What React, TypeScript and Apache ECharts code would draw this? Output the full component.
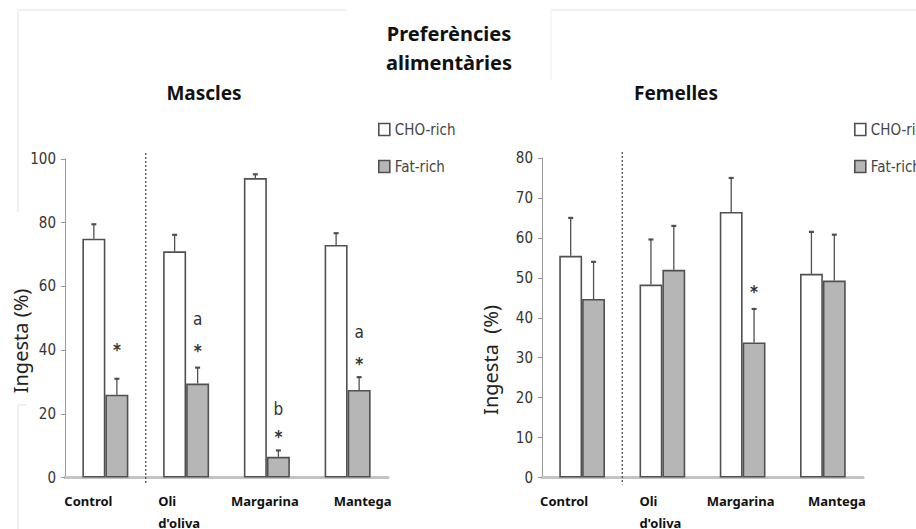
import React, { useEffect, useRef } from 'react';
import * as echarts from 'echarts';

// ---------- data ----------
const categories = ['Control', "Oli d'oliva", 'Margarina', 'Mantega'];
const seriesNames = ['CHO-rich', 'Fat-rich'];

const maleCho = [75, 71, 94, 73];
const maleChoErr = [4.5, 5.2, 1.2, 3.7];
const maleFat = [26, 29.5, 6.5, 27.5];
const maleFatErr = [5, 5, 2, 4];

const femaleCho = [55.5, 48.3, 66.5, 51];
const femaleChoErr = [9.5, 11.3, 8.5, 10.5];
const femaleFat = [44.7, 52, 33.8, 49.3];
const femaleFatErr = [9.3, 11, 8.4, 11.5];

// [category index, y value, text]
const maleMarks: [number, number, string][] = [
  [0, 40, '*'],
  [1, 49.7, 'a'],
  [1, 39.7, '*'],
  [2, 21.5, 'b'],
  [2, 12.7, '*'],
  [3, 45.8, 'a'],
  [3, 35.5, '*'],
];
const femaleMarks: [number, number, string][] = [[2, 46.5, '*']];

const maleAxis = { min: 0, max: 100, interval: 20 };
const femaleAxis = { min: 0, max: 80, interval: 10 };

const titleLines = ['Preferències', 'alimentàries'];
const panelTitles = ['Mascles', 'Femelles'];
const yNames = ['Ingesta (%)', 'Ingesta  (%)'];

// ---------- styles ----------
const NARROW = '"Liberation Sans Narrow", "Arial Narrow", "DejaVu Sans Condensed", sans-serif';
const SANS = '"Noto Sans", sans-serif';
const BAR_FRAC = 0.285;
const EDGE = '#505050';
const FAT = '#b6b6b6';

const leftShifts = [-17, -7, -2, 15];
const rightShifts = [-18, -2, -2, 14];

function xLabel(shifts: number[]) {
  const rich: any = {};
  shifts.forEach((s, i) => {
    const base = {
      fontFamily: SANS,
      fontWeight: 'bold',
      fontSize: 13,
      color: '#111',
      lineHeight: 22,
    };
    rich['s' + i] = { ...base, padding: s < 0 ? [0, -2 * s, 0, 0] : [0, 0, 0, 2 * s] };
    rich['s' + i + 'a'] = { ...base, align: 'left' };
  });
  return {
    margin: 12,
    interval: 0,
    formatter: (v: string, i: number) => {
      if (v.indexOf(' ') > 0 && v.startsWith('Oli')) {
        const [a, b] = v.split(' ');
        return `{s${i}a|${a}}\n{s${i}|${b}}`;
      }
      return `{s${i}|${v}}`;
    },
    rich,
  };
}

function errRender(params: any, api: any) {
  const cat = api.value(0);
  const v = api.value(1);
  const e = api.value(2);
  const side = api.value(3);
  const band = api.size([1, 0])[0];
  const base = api.coord([cat, v]);
  const top = api.coord([cat, v + e]);
  const x = base[0] + (side * band * BAR_FRAC) / 2;
  return {
    type: 'group',
    children: [
      { type: 'line', shape: { x1: x, y1: base[1], x2: x, y2: top[1] }, style: { stroke: EDGE, lineWidth: 1.3 } },
      { type: 'line', shape: { x1: x - 2.5, y1: top[1], x2: x + 2.5, y2: top[1] }, style: { stroke: EDGE, lineWidth: 2.2 } },
    ],
  };
}

function marksRender(marks: [number, number, string][]) {
  return (params: any, api: any) => {
    const m = marks[params.dataIndex];
    const band = api.size([1, 0])[0];
    const p = api.coord([m[0], m[1]]);
    const star = m[2] === '*';
    return {
      type: 'text',
      x: p[0] + (band * BAR_FRAC) / 2,
      y: p[1],
      style: {
        text: m[2],
        fill: '#333',
        font: star ? `bold 17px ${NARROW}` : `17px ${NARROW}`,
        align: 'center',
        verticalAlign: 'middle',
      },
    };
  };
}

function sepRender(params: any, api: any) {
  const band = api.size([1, 0])[0];
  const x = api.coord([0, 0])[0] + band / 2;
  const cs = params.coordSys;
  return {
    type: 'line',
    shape: { x1: x, y1: cs.y - 6, x2: x, y2: cs.y + cs.height + 7 },
    style: { stroke: '#444', lineWidth: 1.2, lineDash: [2, 2] },
  };
}

function errData(cho: number[], choErr: number[], fat: number[], fatErr: number[]) {
  return [
    ...cho.map((v, i) => [i, v, choErr[i], -1]),
    ...fat.map((v, i) => [i, v, fatErr[i], 1]),
  ];
}

function yAxisCfg(idx: number, ax: { min: number; max: number; interval: number }) {
  return {
    type: 'value',
    gridIndex: idx,
    min: ax.min,
    max: ax.max,
    interval: ax.interval,
    splitLine: { show: false },
    axisLine: { show: true, lineStyle: { color: '#9a9a9a', width: 1 } },
    axisTick: { show: true, length: 4, lineStyle: { color: '#9a9a9a' } },
    axisLabel: { fontFamily: NARROW, fontSize: 15, color: '#333', margin: 9 },
  };
}

function xAxisCfg(idx: number, shifts: number[]) {
  return {
    type: 'category',
    gridIndex: idx,
    data: categories,
    axisLine: { show: true, lineStyle: { color: '#c4c4c4', width: 3 } },
    axisTick: { show: false },
    axisLabel: xLabel(shifts),
  };
}

function legendCfg(left: number) {
  return {
    left,
    top: 117,
    orient: 'vertical',
    icon: 'rect',
    itemWidth: 11,
    itemHeight: 12,
    itemGap: 22,
    selectedMode: false,
    textStyle: { fontFamily: NARROW, fontSize: 15, color: '#444' },
    data: [
      { name: seriesNames[0], itemStyle: { color: '#fff', borderColor: EDGE, borderWidth: 1.6 } },
      { name: seriesNames[1], itemStyle: { color: FAT, borderColor: EDGE, borderWidth: 1.6 } },
    ],
  };
}

function barSeries(name: string, data: number[], idx: number, fill: string) {
  return {
    type: 'bar',
    name,
    xAxisIndex: idx,
    yAxisIndex: idx,
    data,
    barWidth: BAR_FRAC * 100 + '%',
    barGap: '0%',
    itemStyle: { color: fill, borderColor: EDGE, borderWidth: 1.6 },
  };
}

const faint = '#e2e2e2';

export default function App() {
  const ref = useRef<HTMLDivElement>(null);
  useEffect(() => {
    if (!ref.current) return;
    const chart = echarts.init(ref.current, undefined, { renderer: 'svg' });
    const option: any = {
      animation: false,
      backgroundColor: '#fff',
      grid: [
        { left: 65, right: 528, top: 159, bottom: 40 },
        { left: 542, right: 53, top: 158, bottom: 40 },
      ],
      xAxis: [xAxisCfg(0, leftShifts), xAxisCfg(1, rightShifts)],
      yAxis: [yAxisCfg(0, maleAxis), yAxisCfg(1, femaleAxis)],
      legend: [legendCfg(373), legendCfg(849)],
      series: [
        barSeries(seriesNames[0], maleCho, 0, '#fff'),
        barSeries(seriesNames[1], maleFat, 0, FAT),
        barSeries(seriesNames[0], femaleCho, 1, '#fff'),
        barSeries(seriesNames[1], femaleFat, 1, FAT),
        {
          type: 'custom',
          xAxisIndex: 0,
          yAxisIndex: 0,
          z: 5,
          renderItem: errRender,
          data: errData(maleCho, maleChoErr, maleFat, maleFatErr),
        },
        {
          type: 'custom',
          xAxisIndex: 1,
          yAxisIndex: 1,
          z: 5,
          renderItem: errRender,
          data: errData(femaleCho, femaleChoErr, femaleFat, femaleFatErr),
        },
        {
          type: 'custom',
          xAxisIndex: 0,
          yAxisIndex: 0,
          z: 6,
          renderItem: marksRender(maleMarks),
          data: maleMarks.map((m) => [m[0], m[1]]),
        },
        {
          type: 'custom',
          xAxisIndex: 1,
          yAxisIndex: 1,
          z: 6,
          renderItem: marksRender(femaleMarks),
          data: femaleMarks.map((m) => [m[0], m[1]]),
        },
        { type: 'custom', xAxisIndex: 0, yAxisIndex: 0, clip: false, renderItem: sepRender, data: [[0, 0]] },
        { type: 'custom', xAxisIndex: 1, yAxisIndex: 1, clip: false, renderItem: sepRender, data: [[0, 0]] },
      ],
      graphic: [
        { type: 'line', shape: { x1: 18, y1: 10, x2: 346, y2: 10 }, style: { stroke: faint, lineWidth: 1 } },
        { type: 'line', shape: { x1: 551, y1: 10, x2: 916, y2: 10 }, style: { stroke: faint, lineWidth: 1 } },
        { type: 'line', shape: { x1: 18, y1: 10, x2: 18, y2: 212 }, style: { stroke: faint, lineWidth: 1 } },
        { type: 'line', shape: { x1: 551, y1: 10, x2: 551, y2: 80 }, style: { stroke: '#f0f0f0', lineWidth: 1 } },
        { type: 'line', shape: { x1: 18, y1: 405, x2: 27, y2: 405 }, style: { stroke: faint, lineWidth: 1 } },
        { type: 'line', shape: { x1: 18, y1: 405, x2: 18, y2: 529 }, style: { stroke: faint, lineWidth: 1 } },
        {
          type: 'text', x: 449, y: 33,
          style: { text: titleLines[0], font: `bold 20px ${SANS}`, fill: '#111', align: 'center', verticalAlign: 'middle' },
        },
        {
          type: 'text', x: 449, y: 62,
          style: { text: titleLines[1], font: `bold 20px ${SANS}`, fill: '#111', align: 'center', verticalAlign: 'middle' },
        },
        {
          type: 'text', x: 204, y: 93,
          style: { text: panelTitles[0], font: `bold 19px ${SANS}`, fill: '#111', align: 'center', verticalAlign: 'middle' },
        },
        {
          type: 'text', x: 676, y: 93,
          style: { text: panelTitles[1], font: `bold 19px ${SANS}`, fill: '#111', align: 'center', verticalAlign: 'middle' },
        },
        {
          type: 'text', x: 20, y: 341, rotation: Math.PI / 2,
          style: { text: yNames[0], font: `20px ${SANS}`, fill: '#222', align: 'center', verticalAlign: 'middle' },
        },
        {
          type: 'text', x: 490, y: 360, rotation: Math.PI / 2,
          style: { text: yNames[1], font: `20px ${SANS}`, fill: '#222', align: 'center', verticalAlign: 'middle' },
        },
      ],
    };
    chart.setOption(option);
    return () => chart.dispose();
  }, []);
  return (
    <div
      ref={ref}
      style={{ position: 'fixed', left: 0, top: 0, width: 916, height: 529, background: '#fff' }}
    />
  );
}
